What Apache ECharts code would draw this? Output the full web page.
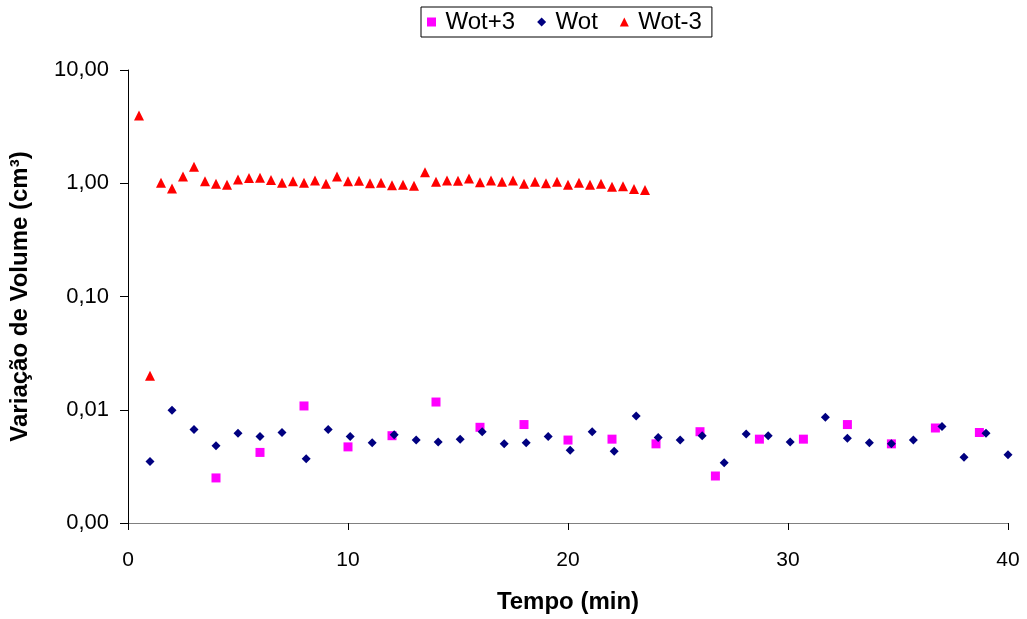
<!DOCTYPE html>
<html>
<head>
<meta charset="utf-8">
<script src="https://cdn.jsdelivr.net/npm/echarts@6/dist/echarts.min.js"></script>
<style>
  html, body { margin: 0; padding: 0; background: #fff; }
  #main { width: 1027px; height: 619px; }
</style>
</head>
<body>
<div id="main"></div>
<script>
// Wot+3 (quadrados rosa)
const plusX = [4, 6, 8, 10, 12, 14, 16, 18, 20, 22, 24, 26, 26.7, 28.7, 30.7, 32.7, 34.7, 36.7, 38.7];
const plusY = [0.0025, 0.0042, 0.0108, 0.0047, 0.0059, 0.0117, 0.0070, 0.0074, 0.0054, 0.0055, 0.0050, 0.0064, 0.0026, 0.0055, 0.0055, 0.0074, 0.0050, 0.0069, 0.0063];

// Wot (losangos azul)
const wotX = [1, 2, 3, 4, 5, 6, 7, 8.1, 9.1, 10.1, 11.1, 12.1, 13.1, 14.1, 15.1, 16.1, 17.1, 18.1, 19.1, 20.1,
  21.1, 22.1, 23.1, 24.1, 25.1, 26.1, 27.1, 28.1, 29.1, 30.1, 31.7, 32.7, 33.7, 34.7, 35.7, 37, 38, 39, 40];
const wotY = [0.0035, 0.0099, 0.0067, 0.0048, 0.0062, 0.0058, 0.0063, 0.0037, 0.0067, 0.0058, 0.0051, 0.0060, 0.0054, 0.0052, 0.0055, 0.0064, 0.0050, 0.0051, 0.0058, 0.0044,
  0.0064, 0.0043, 0.0088, 0.0057, 0.0054, 0.0059, 0.0034, 0.0061, 0.0059, 0.0052, 0.0086, 0.0056, 0.0051, 0.0050, 0.0054, 0.0071, 0.0038, 0.0062, 0.0040];

// Wot-3 (triângulos vermelhos), a cada 0,5 min
const minusX = [0.5, 1, 1.5, 2, 2.5, 3, 3.5, 4, 4.5, 5, 5.5, 6, 6.5, 7, 7.5, 8, 8.5, 9, 9.5, 10, 10.5, 11, 11.5, 12,
  12.5, 13, 13.5, 14, 14.5, 15, 15.5, 16, 16.5, 17, 17.5, 18, 18.5, 19, 19.5, 20, 20.5, 21, 21.5, 22, 22.5, 23, 23.5];
const minusY = [3.97, 0.02, 1.01, 0.90, 1.15, 1.40, 1.04, 0.99, 0.97, 1.08, 1.11, 1.12, 1.07, 1.01, 1.04, 1.01, 1.06, 0.99, 1.15, 1.04, 1.05, 1.00, 1.01, 0.96,
  0.97, 0.95, 1.25, 1.03, 1.06, 1.05, 1.10, 1.02, 1.06, 1.03, 1.06, 0.99, 1.03, 1.00, 1.03, 0.97, 1.01, 0.97, 0.99, 0.93, 0.94, 0.89, 0.87];

const pairs = (xs, ys) => xs.map((x, i) => [x, ys[i]]);
const font = 'Liberation Sans, Arial, sans-serif';

// ícones da legenda como path, para manter a proporção dentro da caixa
const iconSquare = 'path://M0,0H10V10H0Z';
const iconDiamond = 'path://M5,0L10,5L5,10L0,5Z';
const iconTriangle = 'path://M5,0L10,10H0Z';

const chart = echarts.init(document.getElementById('main'));
chart.setOption({
  animation: false,
  grid: { left: 128, right: 19, top: 70, bottom: 95 },
  legend: {
    top: 7,
    left: 421,
    borderColor: '#000',
    borderWidth: 1,
    padding: [3, 10, 3, 6],
    itemGap: 22,
    itemWidth: 18,
    itemHeight: 9,
    symbolKeepAspect: true,
    textStyle: { fontFamily: font, fontSize: 24, color: '#000' },
    data: [
      { name: 'Wot+3', icon: iconSquare },
      { name: 'Wot', icon: iconDiamond },
      { name: 'Wot-3', icon: iconTriangle }
    ]
  },
  xAxis: {
    type: 'value',
    min: 0,
    max: 40,
    interval: 10,
    name: 'Tempo (min)',
    nameLocation: 'middle',
    nameGap: 67,
    nameTextStyle: { fontFamily: font, fontSize: 24, fontWeight: 'bold', color: '#000' },
    axisLine: { lineStyle: { color: '#808080', width: 1 } },
    axisTick: { show: true, inside: false, length: 7, lineStyle: { color: '#000' } },
    axisLabel: { fontFamily: font, fontSize: 21, color: '#000', margin: 27 },
    splitLine: { show: false }
  },
  yAxis: {
    type: 'log',
    logBase: 10,
    min: 0.001,
    max: 10,
    name: 'Variação de Volume (cm³)',
    nameLocation: 'middle',
    nameGap: 96,
    nameTextStyle: { fontFamily: font, fontSize: 24, fontWeight: 'bold', color: '#000' },
    axisLine: { show: true, lineStyle: { color: '#000', width: 1 } },
    axisTick: { show: true, inside: false, length: 8, lineStyle: { color: '#000' } },
    axisLabel: {
      fontFamily: font, fontSize: 22, color: '#000', margin: 19,
      formatter: v => v.toFixed(2).replace('.', ',')
    },
    splitLine: { show: false },
    minorTick: { show: false }
  },
  series: [
    {
      name: 'Wot+3', type: 'scatter', symbol: 'rect', symbolSize: 9,
      itemStyle: { color: '#FF00FF', opacity: 1 }, data: pairs(plusX, plusY)
    },
    {
      name: 'Wot', type: 'scatter', symbol: 'diamond', symbolSize: 9,
      itemStyle: { color: '#000080', opacity: 1 }, data: pairs(wotX, wotY)
    },
    {
      name: 'Wot-3', type: 'scatter', symbol: 'triangle', symbolSize: 10,
      itemStyle: { color: '#FF0000', opacity: 1 }, data: pairs(minusX, minusY)
    }
  ]
});
</script>
</body>
</html>
